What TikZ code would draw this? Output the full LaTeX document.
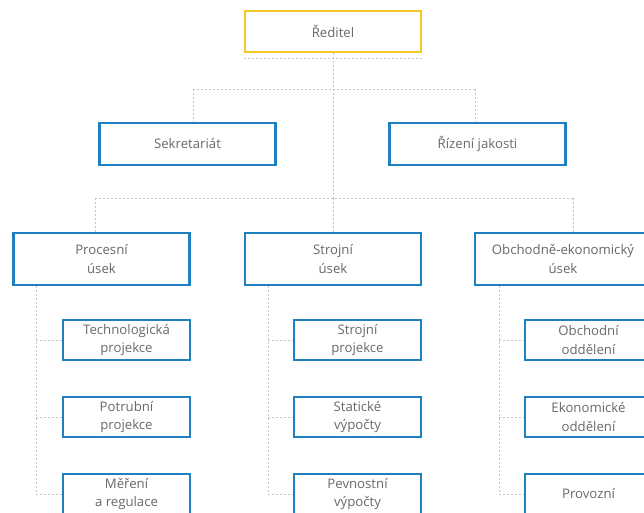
\documentclass[tikz,border=0pt]{standalone}
\usepackage{fontspec}
\setmainfont{Open Sans}
\definecolor{boxblue}{RGB}{30,128,192}
\definecolor{boxyellow}{RGB}{245,200,40}
\definecolor{txt}{RGB}{105,105,105}
\definecolor{dots}{RGB}{195,195,195}
\tikzset{
  box/.style={draw=boxblue, line width=2.6pt, fill=white, text=txt, align=center,
    font=\fontsize{13.2}{18.5}\selectfont, inner sep=0pt},
  topbox/.style={box, draw=boxyellow, minimum width=176pt, minimum height=41pt},
  midbox/.style={box, minimum width=176pt, minimum height=42pt},
  depbox/.style={box, minimum width=176pt, minimum height=52pt},
  subbox/.style={box, minimum width=127pt, minimum height=40pt},
  link/.style={draw=dots, line width=0.9pt, dash pattern=on 2pt off 2pt}
}
\begin{document}
\begin{tikzpicture}[x=1pt,y=-1pt]
\useasboundingbox (0,0) rectangle (644,513);
\clip (0,0) rectangle (644,513);
% nodes
\node[topbox] (red) at (333,31.5) {Ředitel};
\node[midbox] (sek) at (187.5,144) {Sekretariát};
\node[midbox] (riz) at (477.5,144) {Řízení jakosti};
\node[depbox] (pro) at (101.5,259) {Procesní\\úsek};
\node[depbox] (str) at (333,259) {Strojní\\úsek};
\node[depbox] (obe) at (563,259) {Obchodně-ekonomický\\úsek};
\node[subbox] (p1) at (126.5,340) {Technologická\\projekce};
\node[subbox] (p2) at (126.5,417) {Potrubní\\projekce};
\node[subbox] (p3) at (126.5,494) {Měření\\a regulace};
\node[subbox] (s1) at (357.5,340) {Strojní\\projekce};
\node[subbox] (s2) at (357.5,417) {Statické\\výpočty};
\node[subbox] (s3) at (357.5,494) {Pevnostní\\výpočty};
\node[subbox] (o1) at (588.5,340) {Obchodní\\oddělení};
\node[subbox] (o2) at (588.5,417) {Ekonomické\\oddělení};
\node[subbox] (o3) at (588.5,494) {Provozní};
% coordinates
\coordinate (ra) at (244,58);
\coordinate (rb) at (422,58);
\coordinate (j2) at (333,198);
\coordinate (sl) at (193,89);
\coordinate (rr) at (475,89);
\coordinate (pl) at (95,198);
\coordinate (or) at (573,198);
\coordinate (pv) at (36,286);
\coordinate (sv) at (268,286);
\coordinate (ov) at (499,286);
% connectors
\draw[link] (ra) -- (rb);
\draw[link] (red.south) -- (j2);
\draw[link] (sl) -- (rr);
\draw[link] (sl) -- (sl |- sek.north);
\draw[link] (rr) -- (rr |- riz.north);
\draw[link] (pl) -- (or);
\draw[link] (pl) -- (pl |- pro.north);
\draw[link] (j2) -- (str.north);
\draw[link] (or) -- (or |- obe.north);
\draw[link] (pv) -- (pv |- p3.west) -- (p3.west);
\draw[link] (pv |- p1.west) -- (p1.west);
\draw[link] (pv |- p2.west) -- (p2.west);
\draw[link] (sv) -- (sv |- s3.west) -- (s3.west);
\draw[link] (sv |- s1.west) -- (s1.west);
\draw[link] (sv |- s2.west) -- (s2.west);
\draw[link] (ov) -- (ov |- o3.west) -- (o3.west);
\draw[link] (ov |- o1.west) -- (o1.west);
\draw[link] (ov |- o2.west) -- (o2.west);
\end{tikzpicture}
\end{document}
